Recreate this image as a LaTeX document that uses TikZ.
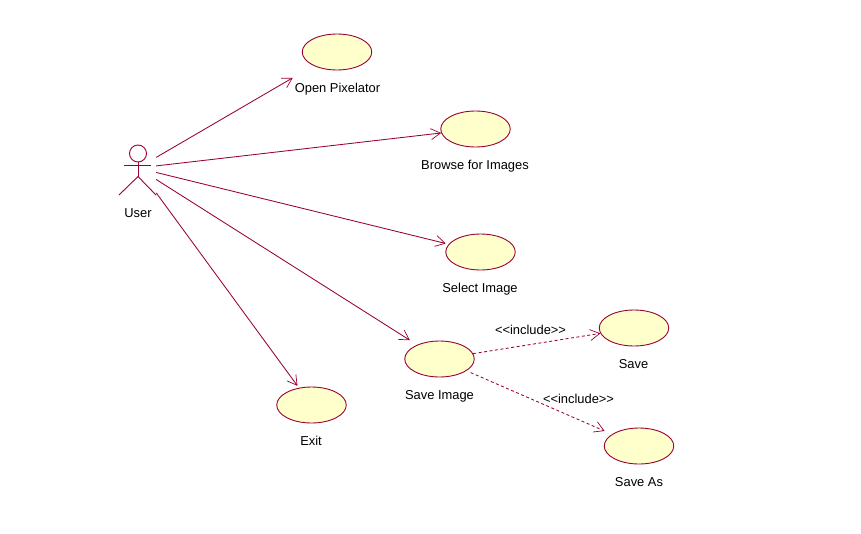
\documentclass[tikz,border=0pt]{standalone}
\usepackage{fontspec}
\setmainfont{Liberation Sans}
\usetikzlibrary{arrows.meta,shapes.geometric}
\definecolor{rose}{HTML}{990033}
\definecolor{usefill}{HTML}{FFFFCC}
\tikzset{
  usecase/.style={ellipse,draw=rose,fill=usefill,line width=0.9pt,minimum width=69.5pt,minimum height=36pt,inner sep=0pt},
  lbl/.style={anchor=base,inner sep=0pt,font=\fontsize{12.9}{15}\selectfont,text=black},
  assoc/.style={draw=rose,line width=0.85pt,-{Straight Barb[length=9.5pt,width=11pt,line width=0.7pt]}},
  incl/.style={assoc,dash pattern=on 3pt off 2.5pt},
  limb/.style={draw=rose,line width=0.9pt}
}
\begin{document}
\begin{tikzpicture}[x=1pt,y=-1pt]
\useasboundingbox (0,0) rectangle (861,533);
\node[usecase] (open) at (337,52) {};
\node[usecase] (browse) at (475.5,129) {};
\node[usecase] (select) at (480.5,252) {};
\node[usecase] (saveimg) at (439.5,359) {};
\node[usecase] (save) at (634,328) {};
\node[usecase] (saveas) at (639,446) {};
\node[usecase] (exit) at (311.5,405) {};
\node[lbl] (lopen) at (337.5,92.5) {Open Pixelator};
\node[lbl] (lbrowse) at (475,169.5) {Browse for Images};
\node[lbl] (lselect) at (480,292.5) {Select Image};
\node[lbl] (lsaveimg) at (439.5,399.5) {Save Image};
\node[lbl] (lsave) at (633.5,368.5) {Save};
\node[lbl] (lsaveas) at (639,486.5) {Save As};
\node[lbl] (lexit) at (311,445.5) {Exit};
\node[lbl] (luser) at (138,217.5) {User};
\node[lbl] (linc1) at (530.5,334.5) {<{}<{}include>{}>};
\node[lbl] (linc2) at (578.5,403.5) {<{}<{}include>{}>};
% actor
\node[draw=none,minimum width=36pt,minimum height=54pt,inner sep=0pt] (user) at (138,168) {};
\node[circle,draw=rose,line width=0.9pt,minimum size=17pt,inner sep=0pt] (head) at (138,153.5) {};
\coordinate (hip) at (138,176.5);
\coordinate (armL) at (124,165);
\coordinate (armR) at (151,165);
\coordinate (footL) at (119,195);
\coordinate (footR) at (156,195);
\draw[limb] (head.south) -- (hip);
\draw[limb] (armL) -- (armR);
\draw[limb] (footL) -- (hip) -- (footR);
% connectors
\draw[assoc,shorten >=24pt] (user) -- (open);
\draw[assoc] (user) -- (browse);
\draw[assoc,shorten >=3pt] (user) -- (select);
\draw[assoc,shorten >=8.5pt] (user) -- (saveimg);
\draw[assoc,shorten >=2.4pt] (user) -- (exit);
\draw[incl] (saveimg) -- (save);
\draw[incl,shorten <=4.5pt,shorten >=8pt] (saveimg) -- (saveas);
\end{tikzpicture}
\end{document}
